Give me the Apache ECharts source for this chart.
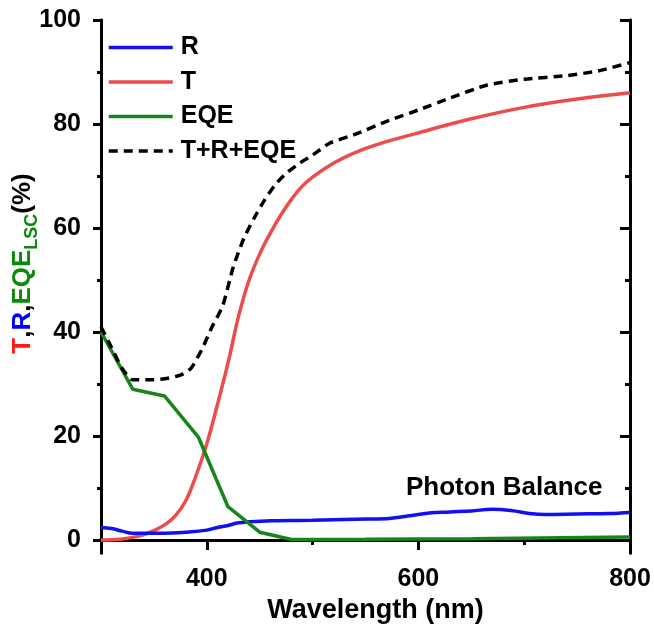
<!DOCTYPE html>
<html>
<head>
<meta charset="utf-8">
<script src="https://cdn.jsdelivr.net/npm/echarts@6/dist/echarts.min.js"></script>
<style>html,body{margin:0;padding:0;background:#fff}#c{width:654px;height:627px}</style>
</head>
<body>
<div id="c"></div>
<script>
// Data
const rWl  = [300,310,320,330,340,360,380,400,410,420,430,440,460,500,540,570,590,610,630,650,670,690,705,720,750,780,800];
const rVal = [2.4,2.2,1.7,1.3,1.3,1.3,1.5,1.9,2.4,2.8,3.3,3.5,3.7,3.8,4.0,4.1,4.6,5.2,5.4,5.6,5.9,5.6,5.1,4.9,5.0,5.1,5.3];

const tWl  = [300,310,320,330,340,350,360,370,380,390,400,410,420,430,440,450,460,470,480,490,500,520,540,560,600,650,700,750,800];
const tVal = [0,0.05,0.2,0.5,1.0,1.8,2.9,4.6,7.5,12.5,18.5,26,34,43,50,55,59,62.5,65.5,68,69.8,72.5,74.5,76,78.3,81,83.2,84.8,86];

const eWl  = [300,330,360,392,420,450,480,550,650,800];
const eVal = [40,29,27.7,19.8,6.4,1.5,0.1,0.15,0.25,0.6];

const sWl  = [300,310,320,330,345,360,375,385,395,405,415,425,435,445,455,465,475,488,500,516,540,570,600,630,665,700,740,770,800];
const sVal = [41,37,33,30.8,30.8,31,31.7,33,36.5,41,45,52.5,58,62,65.5,68.4,70.5,72.5,74,76.3,78,80.5,82.7,85,87.5,88.6,89.3,90.2,91.8];

const xMajor = [400,600,800];
const xMinor = [500,700];
const yMajor = [0,20,40,60,80,100];
const yMinor = [10,30,50,70,90];

const seriesNames = ['R','T','EQE','T+R+EQE'];

const pairs = (xs, ys) => xs.map((x, i) => [x, ys[i]]);

const FONT = '"Liberation Sans", Arial, sans-serif';
const lineAx = {show: true, lineStyle: {color: '#000', width: 3}};

function xAx(pos, ticks, len, inside, showLabel, extra) {
  return Object.assign({
    type: 'value', min: 300, max: 800, position: pos, gridIndex: 0,
    axisLine: lineAx,
    axisTick: {show: true, inside: inside, length: len, customValues: ticks, lineStyle: {color: '#000', width: 3}},
    axisLabel: showLabel ? {show: true, customValues: xMajor, color: '#000', fontFamily: FONT, fontWeight: 'bold', fontSize: 25, margin: 14} : {show: false},
    splitLine: {show: false}
  }, extra || {});
}
function yAx(pos, ticks, len, inside, showLabel, extra) {
  return Object.assign({
    type: 'value', min: -2.5, max: 100, position: pos, gridIndex: 0,
    axisLine: lineAx,
    axisTick: {show: true, inside: inside, length: len, customValues: ticks, lineStyle: {color: '#000', width: 3}},
    axisLabel: showLabel ? {show: true, customValues: yMajor, color: '#000', fontFamily: FONT, fontWeight: 'bold', fontSize: 25, margin: 20} : {show: false},
    splitLine: {show: false}
  }, extra || {});
}

const chart = echarts.init(document.getElementById('c'), null, {renderer: 'canvas'});
chart.setOption({
  backgroundColor: '#fff',
  animation: false,
  grid: {left: 101, right: 24, top: 20, bottom: 74, containLabel: false, outerBoundsMode: 'none'},
  legend: {
    orient: 'vertical', left: 102, top: 30, itemWidth: 64, itemHeight: 24, itemGap: 9.5,
    data: seriesNames,
    itemStyle: {opacity: 0},
    lineStyle: {width: 3.5},
    textStyle: {color: '#000', fontFamily: FONT, fontWeight: 'bold', fontSize: 25, padding: [0,0,0,3]}
  },
  xAxis: [
    xAx('bottom', xMajor, 10, false, true, {
      name: 'Wavelength (nm)', nameLocation: 'middle', nameGap: 44, nameMoveOverlap: false,
      nameTextStyle: {color: '#000', fontFamily: FONT, fontWeight: 'bold', fontSize: 27, padding: [0,0,0,20]}
    }),
    xAx('bottom', xMinor, 5, false, false),
    xAx('top', xMajor, 10, true, false),
    xAx('top', xMinor, 5, true, false)
  ],
  yAxis: [
    yAx('left', yMajor, 8, false, true, {
      name: '{t|T}{k|,}{r|R}{k|,}{g|EQE}{s|LSC}{k|(%)}', nameLocation: 'middle', nameGap: 63, nameMoveOverlap: false,
      nameTextStyle: {
        fontFamily: FONT, fontWeight: 'bold', fontSize: 26, padding: [0,0,0,46],
        rich: {
          t: {color: '#ff1a1a', fontFamily: FONT, fontWeight: 'bold', fontSize: 26, lineHeight: 30, verticalAlign: 'bottom', height: 30},
          k: {color: '#000', fontFamily: FONT, fontWeight: 'bold', fontSize: 26, lineHeight: 30, verticalAlign: 'bottom', height: 30},
          r: {color: '#0000ff', fontFamily: FONT, fontWeight: 'bold', fontSize: 26, lineHeight: 30, verticalAlign: 'bottom', height: 30},
          g: {color: '#0a8a0a', fontFamily: FONT, fontWeight: 'bold', fontSize: 26, lineHeight: 30, verticalAlign: 'bottom', height: 30},
          s: {color: '#0a8a0a', fontFamily: FONT, fontWeight: 'bold', fontSize: 18, lineHeight: 18, verticalAlign: 'bottom', height: 18, padding: [0,0,-3,0]}
        }
      }
    }),
    yAx('left', yMinor, 4, false, false),
    yAx('right', yMajor, 10, true, false),
    yAx('right', yMinor, 5, true, false)
  ],
  graphic: [{
    type: 'text', left: 406, top: 475,
    style: {text: 'Photon Balance', fill: '#000', font: 'bold 26px "Liberation Sans", Arial, sans-serif'}
  }],
  series: [
    {name: 'R', type: 'line', data: pairs(rWl, rVal), showSymbol: false, symbol: 'none', smooth: 0.4,
     lineStyle: {color: '#1010f0', width: 3.5}, itemStyle: {color: '#1010f0'}, z: 3},
    {name: 'T', type: 'line', data: pairs(tWl, tVal), showSymbol: false, symbol: 'none', smooth: 0.4,
     lineStyle: {color: '#ee4b4b', width: 3.5}, itemStyle: {color: '#ee4b4b'}, z: 2},
    {name: 'EQE', type: 'line', data: pairs(eWl, eVal), showSymbol: false, symbol: 'none', smooth: false,
     lineStyle: {color: '#16861a', width: 3.5}, itemStyle: {color: '#16861a'}, z: 4},
    {name: 'T+R+EQE', type: 'line', data: pairs(sWl, sVal), showSymbol: false, symbol: 'none', smooth: 0.2,
     lineStyle: {color: '#000', width: 3.5, type: [9, 6]}, itemStyle: {color: '#000'}, z: 5}
  ]
});
</script>
</body>
</html>
